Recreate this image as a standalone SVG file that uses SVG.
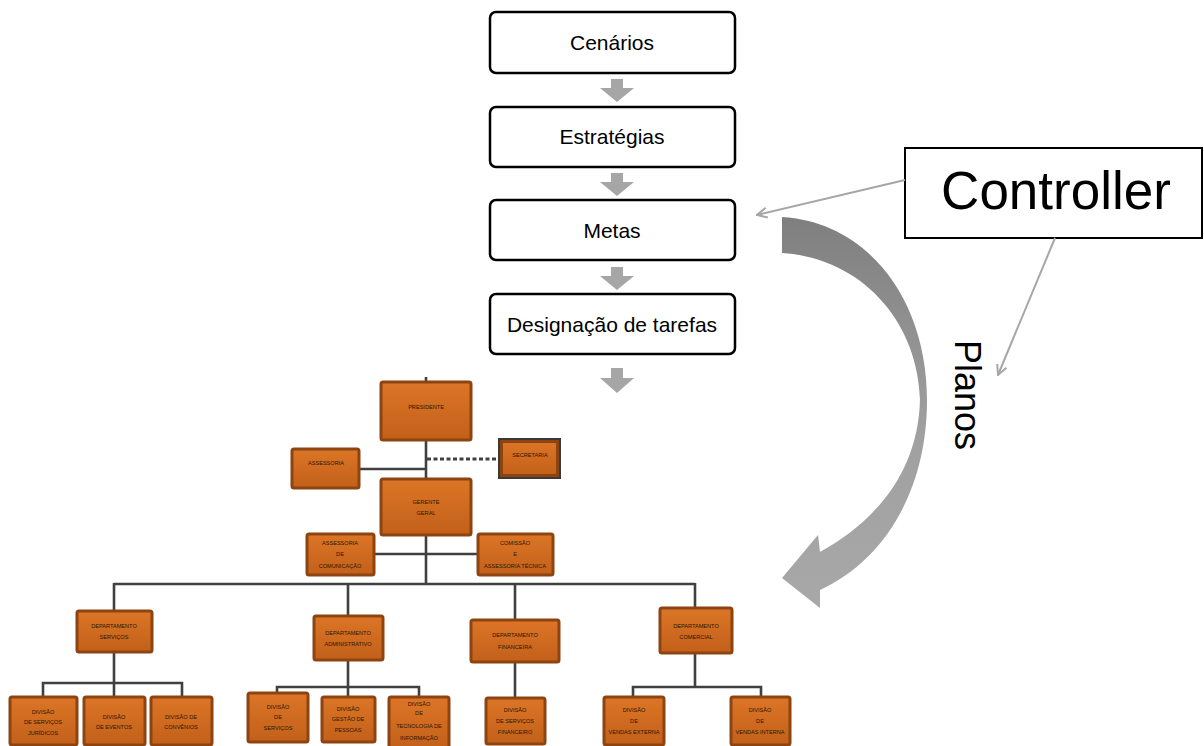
<svg xmlns="http://www.w3.org/2000/svg" width="1204" height="746" viewBox="0 0 1204 746">
<style>
.box{fill:#fff;stroke:#000;stroke-width:2.5}
.t{font-family:"Liberation Sans",Arial,sans-serif;font-size:21px;fill:#000;text-anchor:middle}
.ob{fill:url(#og);stroke:#8e4411;stroke-width:3}
.ot{font-family:"Liberation Sans",Arial,sans-serif;font-size:5.6px;fill:#2a1605;text-anchor:middle}
.ln{stroke:#404040;stroke-width:2.6;fill:none}
.ga{fill:#a6a6a6}
.thin{stroke:#a6a6a6;stroke-width:2;fill:none}
</style>
<defs>
<linearGradient id="og" x1="0" y1="0" x2="0" y2="1">
<stop offset="0" stop-color="#dc7526"/>
<stop offset="1" stop-color="#c2601a"/>
</linearGradient>
<linearGradient id="cg" x1="0" y1="0" x2="0" y2="1">
<stop offset="0" stop-color="#7f7f7f"/>
<stop offset="0.55" stop-color="#a0a0a0"/>
<stop offset="1" stop-color="#a8a8a8"/>
</linearGradient>
<marker id="ah" viewBox="0 0 12 12" refX="11" refY="6" markerWidth="12" markerHeight="12" markerUnits="userSpaceOnUse" orient="auto">
<path d="M1,1 L11,6 L1,11" fill="none" stroke="#a6a6a6" stroke-width="2"/>
</marker>
</defs>
<rect width="1204" height="746" fill="#fff"/>

<g id="cenarios"><rect class="box" x="490" y="12" width="245" height="61" rx="6"/><text class="t" x="612" y="50">Cenários</text></g>
<g id="estrategias"><rect class="box" x="490" y="107" width="245" height="60" rx="6"/><text class="t" x="612" y="144">Estratégias</text></g>
<g id="metas"><rect class="box" x="490" y="200" width="245" height="60" rx="6"/><text class="t" x="612" y="238">Metas</text></g>
<g id="designacao"><rect class="box" x="490" y="294" width="245" height="60" rx="6"/><text class="t" x="612" y="332">Designação de tarefas</text></g>
<g id="controller"><rect x="905" y="148" width="297" height="90" fill="#fff" stroke="#000" stroke-width="2"/><text x="1056" y="209" font-family="'Liberation Sans',Arial,sans-serif" font-size="53" text-anchor="middle">Controller</text></g>
<g id="planos"><text transform="translate(955,395) rotate(90)" font-family="'Liberation Sans',Arial,sans-serif" font-size="36" text-anchor="middle">Planos</text></g>

<g id="connectors">
<path class="ga" d="M611,79 H623 V88 H634 L617,102 L600,88 H611 Z"/>
<path class="ga" d="M611,173 H623 V182 H634 L617,196 L600,182 H611 Z"/>
<path class="ga" d="M611,267 H623 V276 H634 L617,290 L600,276 H611 Z"/>
<path class="ga" d="M611,368 H623 V378 H634 L617,393 L600,378 H611 Z"/>
<line class="thin" x1="905" y1="180" x2="757" y2="215" marker-end="url(#ah)"/>
<line class="thin" x1="1055" y1="238" x2="998" y2="375" marker-end="url(#ah)"/>
<path fill="url(#cg)" d="M782,217 C868,222 927,300 927,400 C927,490 885,560 820,590 L820,608 L782,578 L818,535 L820,552 C878,520 918,470 920,400 C918,322 862,258 782,253 Z"/>

<line class="ln" x1="426" y1="377" x2="426" y2="381"/>
<line class="ln" x1="426" y1="441" x2="426" y2="584"/>
<line class="ln" x1="360" y1="469" x2="426" y2="469"/>
<line x1="427" y1="459" x2="499" y2="459" stroke="#404040" stroke-width="3" stroke-dasharray="4,2.5"/>
<line class="ln" x1="374" y1="554" x2="478" y2="554"/>
<line class="ln" x1="114" y1="584" x2="695" y2="584"/>
<line class="ln" x1="114" y1="583" x2="114" y2="610"/>
<line class="ln" x1="348" y1="583" x2="348" y2="615"/>
<line class="ln" x1="515" y1="583" x2="515" y2="619"/>
<line class="ln" x1="695" y1="583" x2="695" y2="607"/>
<path class="ln" d="M114,652 V683 M43,696 V683 H182 V696 M114,683 V696"/>
<path class="ln" d="M348,660 V687 M277,692 V687 H419 V696 M348,687 V696"/>
<path class="ln" d="M515,662 V697"/>
<path class="ln" d="M695,653 V687 M633,696 V687 H761 V696"/>
</g>

<g id="presidente"><rect class="ob" x="381" y="382" width="90" height="58" rx="2"/><text class="ot" x="426" y="409">PRESIDENTE</text></g>
<g id="assessoria"><rect class="ob" x="292" y="449" width="67" height="39" rx="2"/><text class="ot" x="326" y="465">ASSESSORIA</text></g>
<g id="secretaria"><rect x="499" y="439" width="61" height="39" fill="none" stroke="#3a3a3a" stroke-width="2"/><rect class="ob" x="501.5" y="441.5" width="56" height="34" stroke-width="2"/><text class="ot" x="530" y="457">SECRETARIA</text></g>
<g id="gerente"><rect class="ob" x="381" y="479" width="90" height="56" rx="2"/><text class="ot" x="426" y="504">GERENTE</text><text class="ot" x="426" y="515">GERAL</text></g>
<g id="ass-com"><rect class="ob" x="307" y="534" width="67" height="41" rx="2"/><text class="ot" x="340" y="545">ASSESSORIA</text><text class="ot" x="340" y="556">DE</text><text class="ot" x="340" y="568">COMUNICAÇÃO</text></g>
<g id="comissao"><rect class="ob" x="478" y="534" width="75" height="41" rx="2"/><text class="ot" x="515" y="545">COMISSÃO</text><text class="ot" x="515" y="556">E</text><text class="ot" x="515" y="568">ASSESSORIA TÉCNICA</text></g>

<g id="dep-servicos"><rect class="ob" x="77" y="611" width="75" height="41" rx="2"/><text class="ot" x="114" y="628">DEPARTAMENTO</text><text class="ot" x="114" y="639">SERVIÇOS</text></g>
<g id="dep-admin"><rect class="ob" x="314" y="616" width="69" height="44" rx="2"/><text class="ot" x="348" y="635">DEPARTAMENTO</text><text class="ot" x="348" y="646">ADMINISTRATIVO</text></g>
<g id="dep-fin"><rect class="ob" x="471" y="620" width="88" height="42" rx="2"/><text class="ot" x="515" y="637">DEPARTAMENTO</text><text class="ot" x="515" y="649">FINANCEIRA</text></g>
<g id="dep-com"><rect class="ob" x="660" y="608" width="72" height="45" rx="2"/><text class="ot" x="696" y="628">DEPARTAMENTO</text><text class="ot" x="696" y="639">COMERCIAL</text></g>

<g id="div-juridicos"><rect class="ob" x="10" y="697" width="67" height="48" rx="2"/><text class="ot" x="43" y="714">DIVISÃO</text><text class="ot" x="43" y="724">DE SERVIÇOS</text><text class="ot" x="43" y="735">JURÍDICOS</text></g>
<g id="div-eventos"><rect class="ob" x="84" y="697" width="61" height="48" rx="2"/><text class="ot" x="114" y="719">DIVISÃO</text><text class="ot" x="114" y="729">DE EVENTOS</text></g>
<g id="div-convenios"><rect class="ob" x="151" y="697" width="61" height="48" rx="2"/><text class="ot" x="181" y="719">DIVISÃO DE</text><text class="ot" x="181" y="729">CONVÊNIOS</text></g>
<g id="div-servicos"><rect class="ob" x="248" y="693" width="60" height="49" rx="2"/><text class="ot" x="278" y="709">DIVISÃO</text><text class="ot" x="278" y="719">DE</text><text class="ot" x="278" y="730">SERVIÇOS</text></g>
<g id="div-pessoas"><rect class="ob" x="322" y="697" width="53" height="45" rx="2"/><text class="ot" x="348" y="711">DIVISÃO</text><text class="ot" x="348" y="721">GESTÃO DE</text><text class="ot" x="348" y="732">PESSOAS</text></g>
<g id="div-ti"><rect class="ob" x="389" y="697" width="60" height="52" rx="2"/><text class="ot" x="419" y="706">DIVISÃO</text><text class="ot" x="419" y="715">DE</text><text class="ot" x="419" y="728">TECNOLOGIA DE</text><text class="ot" x="419" y="740">INFORMAÇÃO</text></g>
<g id="div-fin"><rect class="ob" x="486" y="698" width="59" height="46" rx="2"/><text class="ot" x="515" y="712">DIVISÃO</text><text class="ot" x="515" y="723">DE SERVIÇOS</text><text class="ot" x="515" y="734">FINANCEIRO</text></g>
<g id="div-externa"><rect class="ob" x="604" y="697" width="60" height="48" rx="2"/><text class="ot" x="634" y="712">DIVISÃO</text><text class="ot" x="634" y="723">DE</text><text class="ot" x="634" y="734">VENDAS EXTERNA</text></g>
<g id="div-interna"><rect class="ob" x="731" y="697" width="59" height="48" rx="2"/><text class="ot" x="760" y="712">DIVISÃO</text><text class="ot" x="760" y="723">DE</text><text class="ot" x="760" y="734">VENDAS INTERNA</text></g>
</svg>
